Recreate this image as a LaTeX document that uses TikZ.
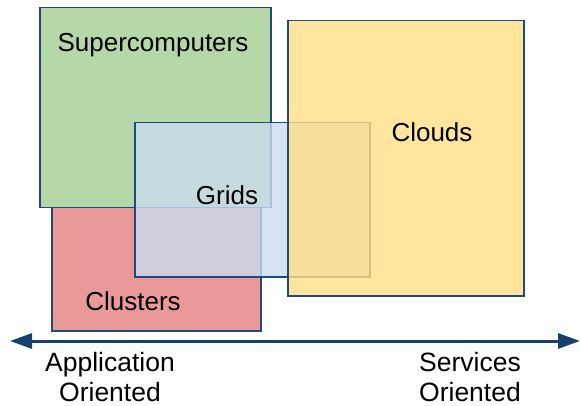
\documentclass[tikz,border=0pt]{standalone}
\usepackage{fontspec}
\setmainfont{Liberation Sans}
\usetikzlibrary{arrows.meta}
\definecolor{navy}{HTML}{1F4A7C}
\definecolor{arrowblue}{HTML}{17406E}
\definecolor{sgreen}{HTML}{B6D7A8}
\definecolor{cred}{HTML}{EA9999}
\definecolor{gblue}{HTML}{CADCEF}
\definecolor{cyellow}{HTML}{FFDF85}
\begin{document}
\begin{tikzpicture}[x=1pt,y=-1pt,
  box/.style={draw=navy,line width=1.5pt},
  lbl/.style={font=\fontsize{26}{30}\selectfont,inner sep=0pt},
  axislbl/.style={font=\fontsize{26.5}{30}\selectfont,align=center,inner sep=0pt}]
\useasboundingbox (0,0) rectangle (581,406);
% Clusters
\node[box,fill=cred,minimum width=209pt,minimum height=136pt,inner sep=0pt,anchor=north west] (clusters) at (51,194) {};
% Supercomputers
\node[box,fill=sgreen,minimum width=231pt,minimum height=200pt,inner sep=0pt,anchor=north west] (super) at (39,7) {};
% Grids (semi-transparent)
\node[box,fill=gblue,fill opacity=0.8,minimum width=235pt,minimum height=154pt,inner sep=0pt,anchor=north west] (grids) at (134,122) {};
% Clouds (semi-transparent fill)
\node[box,fill=cyellow,fill opacity=0.8,minimum width=236pt,minimum height=275pt,inner sep=0pt,anchor=north west] (clouds) at (287,20) {};
% labels
\node[lbl] (tsuper) at (153,45) {Supercomputers};
\node[lbl] (tclouds) at (432,132) {Clouds};
\node[lbl] (tgrids) at (227,195) {Grids};
\node[lbl] (tclusters) at (133,301) {Clusters};
% axis
\coordinate (aleft) at (10,341);
\coordinate (aright) at (580,341);
\draw[arrowblue,line width=3pt,{Triangle[length=22pt,width=15pt]}-{Triangle[length=22pt,width=15pt]}] (aleft) -- (aright);
\node[axislbl] (app) at (110,377) {Application\\Oriented};
\node[axislbl] (serv) at (470,377) {Services\\Oriented};
\end{tikzpicture}
\end{document}
